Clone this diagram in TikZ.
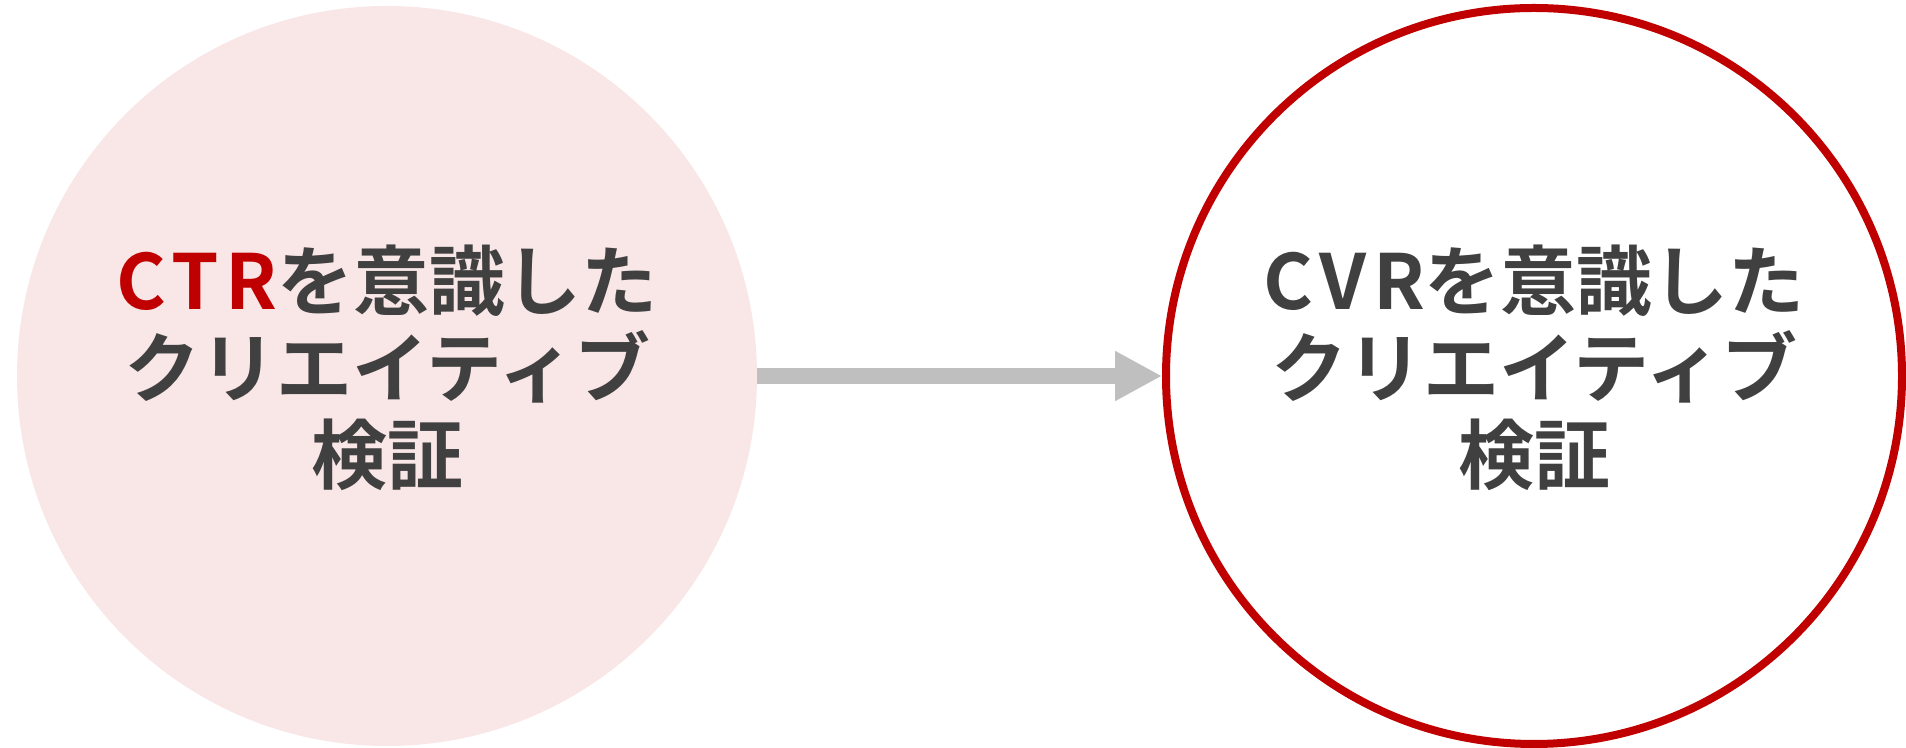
\documentclass[tikz,border=0pt]{standalone}
\usepackage{fontspec}
\newfontfamily\jpfont{Noto Sans CJK JP Bold}
\usetikzlibrary{arrows.meta,positioning}
\definecolor{Ink}{HTML}{404040}
\definecolor{Brand}{HTML}{C00000}
\definecolor{Blush}{HTML}{F9E6E7}
\definecolor{Rail}{HTML}{BFBFBF}
\newcommand\kpi[1]{{\addfontfeature{LetterSpace=9}#1}}

\begin{document}
\begin{tikzpicture}[
      x=0.5pt,y=0.5pt,
      stage/.style={circle,inner sep=0pt},
      caption/.style={align=center,text=Ink,yshift=4pt,
        font=\jpfont\fontsize{38pt}{43.5pt}\selectfont},
      flow/.style={-{Triangle[length=23.5pt,width=23.5pt]},line width=8pt,color=Rail}
    ]
      \useasboundingbox (0,0) rectangle (1906,748);
      \node[stage,fill=Blush,minimum size=370pt] (ctr) at (387,372) {};
      \node[stage,draw=Brand,line width=4pt,minimum size=368pt] (cvr) at (1534,372) {};
      \node[caption] (ctrtext) at (ctr) {\textcolor{Brand}{\kpi{CTR}}を意識した\\クリエイティブ\\検証};
      \node[caption] (cvrtext) at (cvr) {\kpi{CVR}を意識した\\クリエイティブ\\検証};
      \draw[flow] (ctr) -- (cvr);
    \end{tikzpicture}
\end{document}
